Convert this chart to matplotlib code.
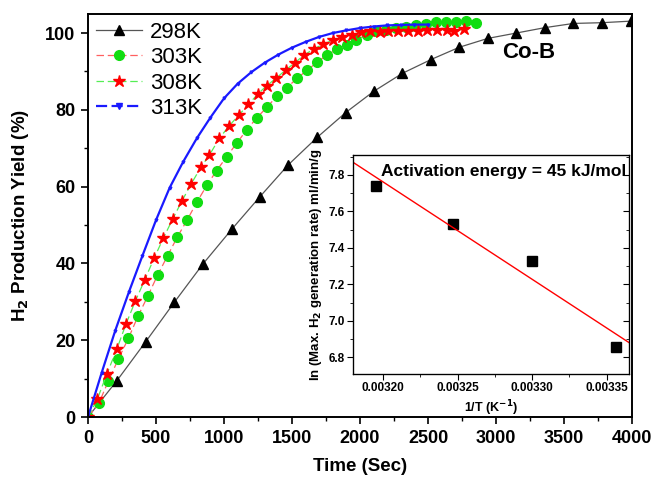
import matplotlib
matplotlib.use('Agg')
import matplotlib.pyplot as plt
import numpy as np
from matplotlib.ticker import MultipleLocator, FormatStrFormatter

plt.rcParams['font.family'] = ['Liberation Sans', 'DejaVu Sans']

# 298K (black triangles)
t_298 = [0, 211, 424, 635, 846, 1057, 1262, 1473, 1684, 1895, 2100, 2311, 2522, 2730, 2939, 3149, 3358, 3569, 3782, 3990]
y_298 = [0, 9.4, 19.6, 29.9, 39.9, 48.9, 57.3, 65.7, 72.8, 79.3, 84.8, 89.5, 93.1, 96.3, 98.6, 100.0, 101.4, 102.5, 102.7, 103.1]

# 303K (green circles, red line)
t_303 = [0, 81, 150, 223, 297, 368, 441, 512, 585, 657, 730, 801, 873, 946, 1020, 1093, 1167, 1243, 1319, 1387,
         1463, 1537, 1613, 1686, 1755, 1833, 1902, 1973, 2049, 2118, 2191, 2265, 2338, 2412, 2485, 2559, 2632, 2706, 2779, 2853]
y_303 = [0, 3.7, 9.4, 15.1, 20.5, 26.3, 31.6, 37.0, 42.0, 46.9, 51.4, 56.0, 60.3, 64.2, 67.8, 71.3, 74.8, 78.0, 80.8, 83.5,
         85.8, 88.2, 90.4, 92.4, 94.3, 95.8, 97.0, 98.3, 99.5, 100.5, 100.8, 101.2, 101.6, 102.0, 102.3, 102.8, 102.8, 103.0, 103.2, 102.7]

# 308K (red stars, green line)
t_308 = [0, 68, 137, 211, 279, 348, 417, 485, 554, 623, 691, 760, 829, 892, 966, 1037, 1108, 1179, 1248, 1314,
         1382, 1454, 1522, 1590, 1662, 1730, 1799, 1870, 1939, 2007, 2074, 2147, 2208, 2282, 2355, 2429, 2490, 2564, 2637, 2691, 2765]
y_308 = [0, 4.6, 11.1, 17.6, 24.2, 30.2, 35.7, 41.3, 46.6, 51.6, 56.3, 60.8, 65.0, 68.2, 72.6, 75.8, 78.6, 81.4, 84.1, 86.3,
         88.2, 90.4, 92.3, 94.3, 95.9, 97.1, 98.1, 99.0, 99.6, 100.2, 100.5, 100.3, 100.5, 100.5, 100.5, 100.5, 100.7, 100.7, 100.7, 100.5, 101.1]

# 313K (blue)
t_313 = [0, 100, 200, 300, 400, 500, 600, 700, 800, 900, 1000, 1100, 1200, 1300, 1400, 1500, 1600, 1700, 1800, 1900,
         2000, 2100, 2200, 2300, 2400, 2500]
y_313 = [0, 11.5, 22.5, 32.5, 42.0, 51.3, 59.7, 66.5, 72.6, 78.0, 83.0, 86.8, 89.8, 92.3, 94.4, 96.2, 97.7, 99.0, 100.0, 100.7,
         101.3, 101.7, 102.0, 102.1, 102.2, 102.2]

# inset: Arrhenius plot
inv_T = [0.003195, 0.003247, 0.003300, 0.003356]
ln_rate = [7.74, 7.53, 7.33, 6.855]

fig = plt.figure(figsize=(6.54, 4.84), dpi=100)
ax = fig.add_axes([0.1346, 0.1384, 0.8318, 0.8326])

ax.plot(t_298, y_298, color='#555555', lw=0.9, marker='^', ms=7, mfc='black', mec='black', label='298K')
ax.plot(t_303, y_303, color='#ff6060', lw=0.9, ls=(0, (6, 3)), marker='o', ms=7, mfc='#11dd11', mec='#11dd11', label='303K')
ax.plot(t_308, y_308, color='#55ee55', lw=0.9, ls=(0, (6, 3)), marker='*', ms=9, mfc='red', mec='red', label='308K')
ax.plot(t_313, y_313, color='#1a1aff', lw=1.6, ls='-', marker='v', ms=2, label='313K')

ax.set_xlim(0, 4000)
ax.set_ylim(0, 104.95)
ax.xaxis.set_major_locator(MultipleLocator(500))
ax.xaxis.set_minor_locator(MultipleLocator(250))
ax.yaxis.set_major_locator(MultipleLocator(20))
ax.yaxis.set_minor_locator(MultipleLocator(10))
ax.tick_params(which='major', direction='out', length=5, width=1.2, labelsize=13, pad=4)
ax.tick_params(which='minor', direction='out', length=3, width=1.0)
for lab in ax.get_xticklabels() + ax.get_yticklabels():
    lab.set_fontweight('bold')
for s in ax.spines.values():
    s.set_linewidth(1.4)

ax.set_xlabel('Time (Sec)', fontsize=13.5, fontweight='bold', labelpad=8)
ax.set_ylabel('H$_\\mathbf{2}$ Production Yield (%)', fontsize=13.5, fontweight='bold', labelpad=10)

ax.text(0.81, 0.905, 'Co-B', transform=ax.transAxes, fontsize=16, fontweight='bold', ha='center', va='center')

leg = ax.legend(loc='upper left', frameon=False, fontsize=16, handlelength=2.1, handletextpad=0.35,
                labelspacing=0.2, borderaxespad=0.15, borderpad=0.2)
# dashed look of the blue handle in the legend
leg.get_lines()[3].set_linestyle((0, (5, 2)))
leg.get_lines()[3].set_markersize(4)

# inset
ins = fig.add_axes([0.540, 0.228, 0.422, 0.452])
ins.plot(inv_T, ln_rate, 's', color='black', ms=7, ls='none')
xlim = (0.00318, 0.003365)
slope, icpt = np.polyfit(inv_T, ln_rate, 1)
xf = np.array(xlim)
ins.plot(xf, slope * xf + icpt, color='red', lw=1.0)
ins.set_xlim(*xlim)
ins.set_ylim(6.71, 7.91)
ins.xaxis.set_major_locator(MultipleLocator(0.00005))
ins.xaxis.set_minor_locator(MultipleLocator(0.000025))
ins.yaxis.set_major_locator(MultipleLocator(0.2))
ins.yaxis.set_minor_locator(MultipleLocator(0.1))
ins.xaxis.set_major_formatter(FormatStrFormatter('%.5f'))
ins.yaxis.set_major_formatter(FormatStrFormatter('%.1f'))
ins.tick_params(which='major', direction='out', length=4, width=0.8, labelsize=8.5, pad=2)
ins.tick_params(which='minor', direction='out', length=2, width=0.6)
for lab in ins.get_xticklabels() + ins.get_yticklabels():
    lab.set_fontweight('bold')
for s in ins.spines.values():
    s.set_linewidth(0.9)
ins.set_xlabel('1/T (K$^{\\mathbf{-1}}$)', fontsize=9, fontweight='bold', labelpad=3)
ins.set_ylabel('ln (Max. H$_\\mathbf{2}$ generation rate) ml/min/g', fontsize=9.5, fontweight='bold', labelpad=3)
ins.text(0.99, 0.925, 'Activation energy = 45 kJ/mol', transform=ins.transAxes, fontsize=12.5,
         fontweight='bold', ha='right', va='center')

# inward ticks on the right side of the inset
rt = ins.twinx()
rt.set_ylim(ins.get_ylim())
rt.yaxis.set_major_locator(MultipleLocator(0.2))
rt.yaxis.set_minor_locator(MultipleLocator(0.1))
rt.tick_params(which='major', direction='in', length=4, width=0.8, labelright=False)
rt.tick_params(which='minor', direction='in', length=2, width=0.6)

fig.savefig('out.png', dpi=100)
